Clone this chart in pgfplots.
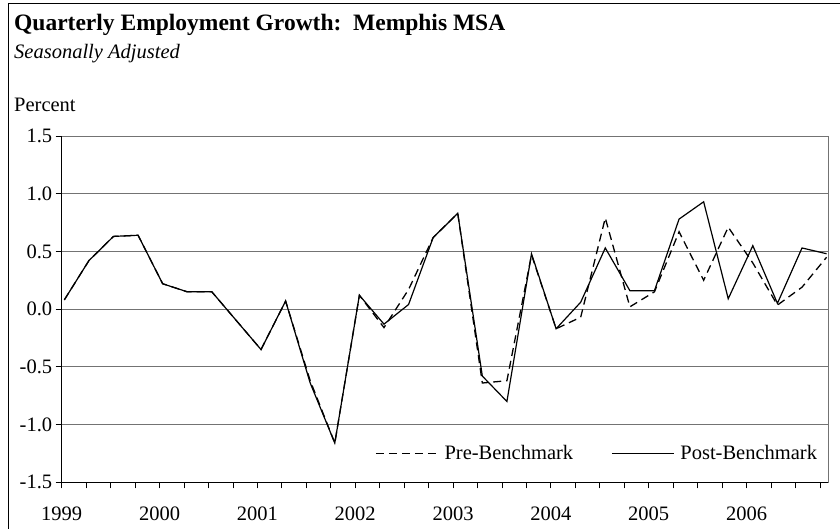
\documentclass[border=0pt]{standalone}
\usepackage{fontspec}
\setmainfont{Liberation Serif}
\usepackage{pgfplots}
\usepackage{pgfplotstable}
\pgfplotsset{compat=1.18}
\newcommand\chartfont{\fontsize{20.5bp}{24bp}\selectfont}

\pgfplotstableread{
q pre post
0 0.08 0.08
1 0.42 0.42
2 0.63 0.63
3 0.64 0.64
4 0.22 0.22
5 0.15 0.15
6 0.15 0.15
7 -0.10 -0.10
8 -0.35 -0.35
9 0.07 0.07
10 -0.62 -0.64
11 -1.16 -1.16
12 0.12 0.12
13 -0.16 -0.13
14 0.17 0.04
15 0.62 0.62
16 0.83 0.83
17 -0.64 -0.58
18 -0.62 -0.80
19 0.47 0.48
20 -0.17 -0.17
21 -0.07 0.06
22 0.79 0.53
23 0.02 0.16
24 0.15 0.16
25 0.67 0.78
26 0.25 0.93
27 0.71 0.09
28 0.40 0.55
29 0.035 0.05
30 0.19 0.53
31 0.45 0.48
}\datatable

\begin{document}
\begin{tikzpicture}[x=1bp,y=1bp]
\useasboundingbox (-61.7,-46.7) rectangle (778.3,482.3);
\begin{axis}[
  at={(0,0)}, anchor=south west,
  scale only axis, width=766.6bp, height=346.3bp,
  xmin=-0.106, xmax=31.07, ymin=-1.5, ymax=1.5,
  font=\chartfont,
  /pgf/number format/assume math mode=true,
  axis line style={black!55, line width=0.8bp},
  xtick={-0.106,3.873,7.852,11.830,15.809,19.788,23.767,27.746},
  xticklabels={1999,2000,2001,2002,2003,2004,2005,2006},
  xticklabel style={yshift=-15bp},
  minor xtick={0.889,1.883,2.878,4.868,5.862,6.857,8.846,9.841,10.836,12.825,13.820,14.815,16.804,17.799,18.793,20.783,21.777,22.772,24.762,25.756,26.751,28.740,29.735,30.730},
  ytick={-1.5,-1,-0.5,0,0.5,1,1.5},
  yticklabel style={/pgf/number format/.cd, fixed, fixed zerofill, precision=1},
  xtick pos=bottom, ytick pos=left, tick align=outside,
  major tick length=6bp, minor tick length=6bp,
  tick style={black, line width=0.8bp},
  ymajorgrids, grid style={black!55, line width=0.8bp},
  legend columns=2,
  legend style={at={(rel axis cs:0.409,0.084)}, anchor=west, draw=none, fill=none,
    inner sep=0pt, outer sep=0pt, nodes={inner sep=0pt},
    /tikz/column sep=6bp,
    /tikz/every even column/.append style={column sep=38bp}},
  legend image code/.code={\draw[#1] (0bp,0bp) -- (62bp,0bp);},
  clip=false,
]
\addplot[black, line width=1.3bp, dash pattern=on 8bp off 5bp] table[x=q, y=pre] {\datatable};
\addlegendentry{Pre-Benchmark}
\addplot[black, line width=1.2bp] table[x=q, y=post] {\datatable};
\addlegendentry{Post-Benchmark}
\draw[black, line width=0.8bp] (rel axis cs:0,1) -- (rel axis cs:0,0) -- (rel axis cs:1,0);
\end{axis}
\node[anchor=base west, inner sep=0pt, font=\fontsize{23.5bp}{28bp}\selectfont\bfseries] at (-47.7,451.6) {Quarterly Employment Growth:\ \ Memphis MSA};
\node[anchor=base west, inner sep=0pt, font=\chartfont\itshape] at (-47.7,423.3) {Seasonally Adjusted};
\node[anchor=base west, inner sep=0pt, font=\chartfont] at (-47.7,370.6) {Percent};
\draw[black, line width=1bp] (-52.7,-46.7) -- (-52.7,478.3) -- (778.3,478.3);
\end{tikzpicture}
\end{document}
